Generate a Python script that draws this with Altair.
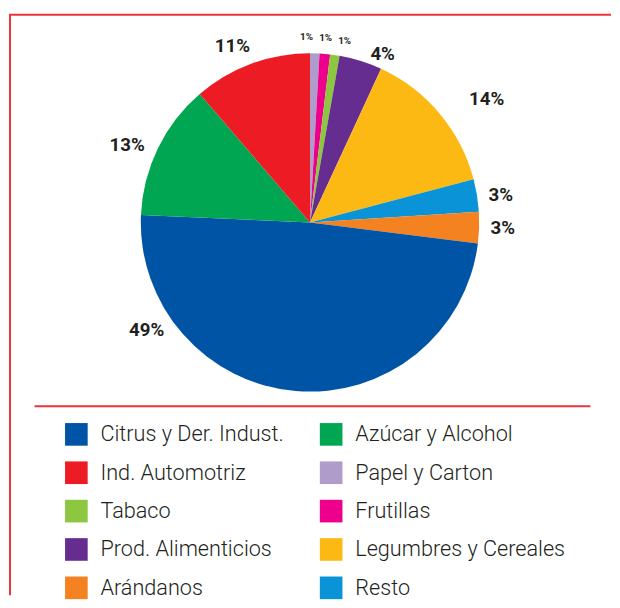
import altair as alt
import pandas as pd

# ---- data ----
sectors = ["Papel y Carton", "Frutillas", "Tabaco", "Prod. Alimenticios",
           "Legumbres y Cereales", "Resto", "Arándanos", "Citrus y Der. Indust.",
           "Azúcar y Alcohol", "Ind. Automotriz"]
shares = [0.9, 1.0, 0.9, 4.1, 14.0, 3.1, 3.0, 48.7, 13.0, 11.3]
labels = ["1%", "1%", "1%", "4%", "14%", "3%", "3%", "49%", "13%", "11%"]

# legend is filled column by column
legend_order = ["Citrus y Der. Indust.", "Ind. Automotriz", "Tabaco",
                "Prod. Alimenticios", "Arándanos",
                "Azúcar y Alcohol", "Papel y Carton", "Frutillas",
                "Legumbres y Cereales", "Resto"]
legend_colors = ["#0054a6", "#ed1c24", "#8dc63f", "#662d91", "#f58220",
                 "#00a651", "#b09ccb", "#ec008c", "#fdb913", "#0a93d6"]

# ---- label placement (layout, in % of the circle and px radius) ----
label_at = [99.7, 1.35, 3.0, 6.5, 15.3, 22.7, 25.5, 65.7, 81.4, 93.4]
label_r = [188, 188, 188, 186, 219, 196, 196, 199, 202, 196]
label_small = [True, True, True, False, False, False, False, False, False, False]

df = pd.DataFrame({
    "sector": sectors,
    "share": shares,
    "label": labels,
    "ord": list(range(len(sectors))),
    "label_at": label_at,
    "label_r": label_r,
    "small": label_small,
})

W, H = 612, 592
CX, CY = 306, 213
R = 172
RED = "#ee3338"
FONT = "Roboto"

theta_scale = alt.Scale(domain=[0, 100])

base = alt.Chart(df)

pie = base.mark_arc(outerRadius=R, stroke=None).encode(
    theta=alt.Theta("share:Q", stack=True, scale=theta_scale),
    order=alt.Order("ord:Q"),
    x=alt.value(CX),
    y=alt.value(CY),
    color=alt.Color(
        "sector:N",
        scale=alt.Scale(domain=legend_order, range=legend_colors),
        legend=alt.Legend(
            orient="none", legendX=57, legendY=417, columns=2,
            columnPadding=36, rowPadding=16, title=None, padding=0,
            symbolType="square", symbolSize=529, symbolStrokeWidth=0,
            symbolOpacity=1, labelFont=FONT, labelFontSize=22,
            labelFontWeight=300, labelColor="#231f20", labelOffset=13,
            labelLimit=400,
        ),
    ),
)

big_text = base.transform_filter("!datum.small").mark_text(
    font=FONT, fontSize=19, fontWeight="bold", color="#231f20",
    align="center", baseline="middle",
).encode(
    theta=alt.Theta("label_at:Q", stack=None, scale=theta_scale),
    radius=alt.Radius("label_r:Q", scale=None),
    x=alt.value(CX),
    y=alt.value(CY),
    text="label:N",
)

small_text = base.transform_filter("datum.small").mark_text(
    font=FONT, fontSize=10, fontWeight="bold", color="#231f20",
    align="center", baseline="middle",
).encode(
    theta=alt.Theta("label_at:Q", stack=None, scale=theta_scale),
    radius=alt.Radius("label_r:Q", scale=None),
    x=alt.value(CX),
    y=alt.value(CY),
    text="label:N",
)

one = alt.Chart(pd.DataFrame({"k": [0]}))
top_line = one.mark_rule(color=RED, strokeWidth=2).encode(
    x=alt.value(0), x2=alt.value(W), y=alt.value(2))
left_line = one.mark_rule(color=RED, strokeWidth=2).encode(
    x=alt.value(1), y=alt.value(2), y2=alt.value(H))
sep_line = one.mark_rule(color=RED, strokeWidth=2).encode(
    x=alt.value(26), x2=alt.value(591), y=alt.value(400))

chart = alt.layer(pie, big_text, small_text, top_line, left_line, sep_line).properties(
    width=W, height=H, padding=0,
).configure_view(stroke=None)

chart.save("out.html", embed_options={"renderer": "svg", "actions": False})
